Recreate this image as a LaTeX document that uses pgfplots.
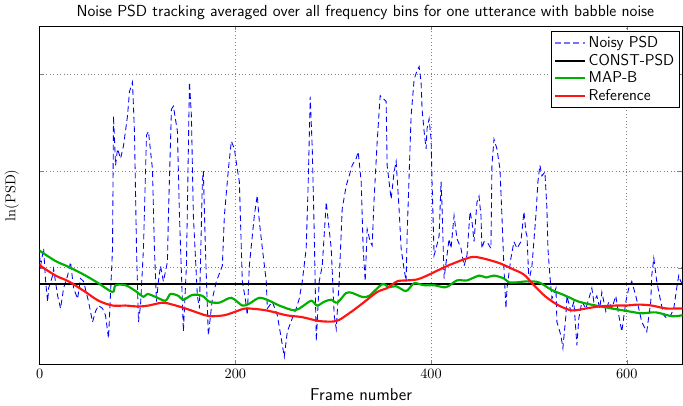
\documentclass[border=0pt]{standalone}
\usepackage{pgfplots}
\pgfplotsset{compat=1.18}
\definecolor{mapgreen}{RGB}{0,176,0}
\definecolor{refred}{RGB}{255,20,20}
\begin{document}
\begin{tikzpicture}
\begin{axis}[
  width=450pt, height=237pt, scale only axis,
  xmin=0, xmax=657, ymin=0, ymax=3.5,
  xtick={0,200,400,600},
  ytick={0,1,2,3}, yticklabels={},
  tick align=inside, major tick length=3pt,
  xmajorgrids, ymajorgrids,
  grid style={dotted, gray, line width=0.5pt},
  axis line style={line width=0.6pt},
  title={Noise PSD tracking averaged over all frequency bins for one utterance with babble noise},
  title style={font=\sffamily\fontsize{11.2}{13}\selectfont, xshift=3pt, yshift=-5pt},
  xlabel={Frame number},
  xlabel style={font=\sffamily\fontsize{12}{14}\selectfont, yshift=0pt},
  ylabel={$\ln(\mathrm{PSD})$},
  ylabel style={yshift=4pt},
  legend style={font=\sffamily\fontsize{11}{13}\selectfont, at={(1,1)}, anchor=north east, xshift=-2pt, yshift=-3.5pt,
    draw=black, line width=0.6pt, inner sep=1.5pt, row sep=-1pt},
  legend image code/.code={\draw[#1] (0pt,0pt) -- (21pt,0pt);},
  legend cell align=left,
]
% Noisy PSD
\addplot[blue, dash pattern=on 4pt off 2.5pt, line width=0.6pt, legend image post style={blue!55, line width=0.9pt, dash pattern=on 4pt off 2.5pt}] coordinates {
(0,1.12)(1,1.02)(4.1,1.20)(6.1,0.86)(8.2,0.65)(9.2,0.79)(13.3,0.92)(14.3,0.99)(18.4,0.71)(21.4,0.58)
(24.5,0.79)(28.6,0.92)(31.6,1.06)(34.7,0.79)(38.8,0.68)(41.8,0.89)(44.9,0.86)(50,0.65)(54.1,0.44)(57.1,0.55)
(60.2,0.61)(64.3,0.58)(67.3,0.51)(70.4,0.27)(74.5,1.20)(75.5,2.57)(77.6,2.06)(79.6,2.23)(82.7,2.13)(85.7,2.26)
(89.8,2.57)(91.8,2.82)(94.9,2.92)(96.9,2.41)(99,1.20)(101,0.44)(103.1,0.61)(106.1,1.20)(109.2,2.37)(111.2,2.41)
(115.3,2.02)(117.3,1.20)(119.4,0.65)(121.4,0.86)(123.5,1.02)(126.5,0.86)(130.6,1.06)(131.6,1.54)(134.7,2.64)(136.7,2.67)
(140.8,2.41)(142.9,1.54)(145.9,0.65)(146.9,0.34)(150,1.02)(152,2.23)(153.1,2.92)(155.1,2.57)(157.1,1.54)(161.2,0.71)
(163.3,0.58)(166.3,1.89)(167.3,2.00)(169.4,1.20)(172.4,0.30)(176.5,0.68)(180.6,0.86)(186.7,1.02)(188.8,1.54)(192.9,2.02)
(195.9,2.31)(199,2.23)(202,2.02)(204.1,1.89)(207.1,0.86)(210.2,0.68)(212.2,0.51)(214.3,1.02)(219.4,1.54)(222.4,1.75)
(224.5,1.48)(227.6,1.20)(231.6,0.86)(232.7,0.58)(237.8,0.65)(242.9,0.51)(246.9,0.27)(250,0.08)(253.1,0.34)(258.2,0.48)
(262.2,0.58)(265.3,0.68)(268.4,0.86)(272.4,1.20)(274.5,1.89)(276.5,2.77)(278.6,2.23)(280.6,1.37)(282.7,0.24)(285.7,0.86)
(288.8,1.02)(292.9,1.68)(293.9,1.58)(298,1.20)(301,0.51)(303.1,0.37)(306.1,0.86)(309.2,1.61)(313.3,1.85)(316.3,1.95)
(319.4,2.06)(323.5,2.13)(325.5,2.20)(328.6,1.89)(330.6,1.20)(332.7,0.86)(334.7,1.40)(337.8,1.27)(339.8,1.23)(341.8,1.71)
(344.9,2.30)(348,2.78)(351,2.75)(354.1,2.72)(355.1,2.06)(359.2,1.71)(362.2,1.99)(364.3,2.10)(367.3,1.61)(369.4,1.20)
(372.4,0.99)(374.5,0.86)(375.5,1.33)(379.6,2.57)(382.7,2.95)(385.7,3.04)(387.8,3.08)(389.8,2.92)(390.8,2.64)(392.9,2.41)
(394.9,2.23)(395.9,2.44)(398,2.54)(400,2.33)(401,1.89)(403.1,1.13)(405.1,1.20)(408.2,1.33)(410.2,1.89)(411.2,1.64)
(413.3,0.89)(416.3,1.13)(418.4,1.30)(420.4,1.20)(423.5,1.54)(426.5,1.30)(430.6,1.20)(433.7,1.02)(436.7,1.13)(439.8,1.58)
(441.8,1.48)(443.9,1.27)(446.9,1.68)(449,1.74)(451,1.54)(452,1.20)(454.1,1.27)(457.1,1.27)(461.2,1.20)(462.2,2.06)
(464.3,2.33)(467.3,2.23)(470.4,2.02)(472.4,1.54)(474.5,0.99)(476.5,0.58)(477.6,0.79)(481.6,1.10)(484.7,1.27)(487.8,1.20)
(491.8,1.27)(494.9,1.58)(496.9,1.37)(498,1.33)(500,0.86)(503.1,1.02)(507.1,1.54)(509.2,1.89)(511.2,2.06)(513.3,1.95)
(516.3,1.99)(518.4,1.61)(519.4,1.20)(521.4,0.92)(523.5,0.68)(527.6,0.79)(528.6,0.44)(532.7,0.30)(534.7,0.17)(537.8,0.51)
(538.8,0.71)(542.9,0.55)(545.9,0.65)(549,0.20)(551,0.48)(554.1,0.65)(558.2,0.58)(561.2,0.68)(564.3,0.79)(566.3,0.65)
(569.4,0.71)(572.4,0.58)(574.5,0.75)(578.6,0.55)(581.6,0.65)(584.7,0.58)(588.8,0.71)(591.8,0.51)(594.9,0.34)(599,0.65)
(602,0.79)(605.1,0.86)(609.2,0.71)(612.2,0.58)(615.3,0.44)(620.4,0.34)(624.5,0.65)(625.5,0.92)(627.6,1.10)(630.6,0.86)
(634.7,0.65)(637.8,0.51)(640.8,0.48)(644.9,0.51)(648,0.58)(651,0.79)(653.1,0.92)(655.1,0.86)(657,0.84)
};
\addlegendentry{Noisy PSD}
% CONST-PSD
\addplot[black, line width=1.5pt] coordinates {(0,0.837)(657,0.837)};
\addlegendentry{CONST-PSD}
% MAP-B
\addplot[mapgreen, line width=1.5pt, smooth] coordinates {
(0,1.18)(1,1.17)(16.3,1.07)(29.6,1.01)(46.9,0.92)(60.2,0.84)(74.5,0.75)(77.6,0.82)(87.8,0.82)(98,0.76)
(106.1,0.70)(110.2,0.73)(118.4,0.70)(128.6,0.66)(133.7,0.73)(141.8,0.71)(146.9,0.67)(156.1,0.72)(166.3,0.71)(173.5,0.65)
(183.7,0.64)(195.9,0.69)(207.1,0.61)(214.3,0.63)(224.5,0.69)(234.7,0.66)(244.9,0.61)(260.2,0.56)(268.4,0.60)(277.6,0.66)
(283.7,0.61)(290.8,0.65)(298,0.67)(304.1,0.64)(313.3,0.74)(319.4,0.74)(329.6,0.70)(336.7,0.71)(350,0.83)(357.1,0.80)
(364.3,0.81)(374.5,0.76)(382.7,0.84)(392.9,0.82)(403.1,0.82)(415.3,0.80)(426.5,0.87)(436.7,0.87)(449,0.92)(456.1,0.90)
(464.3,0.92)(474.5,0.89)(479.6,0.85)(487.8,0.85)(498,0.86)(510.2,0.85)(523.5,0.77)(537.8,0.71)(551,0.65)(568.4,0.61)
(584.7,0.58)(602,0.55)(615.3,0.53)(629.6,0.54)(645.9,0.50)(657,0.51)
};
\addlegendentry{MAP-B}
% Reference
\addplot[refred, line width=1.5pt, smooth] coordinates {
(0,1.04)(1,1.02)(16.3,0.92)(29.6,0.86)(46.9,0.75)(60.2,0.66)(74.5,0.61)(87.8,0.61)(101,0.60)(111.2,0.61)
(125.5,0.64)(135.7,0.62)(149,0.58)(163.3,0.53)(173.5,0.50)(188.8,0.51)(201,0.55)(211.2,0.58)(231.6,0.56)(252,0.51)
(268.4,0.49)(285.7,0.45)(303.1,0.45)(316.3,0.53)(329.6,0.63)(344.9,0.75)(355.1,0.79)(365.3,0.86)(375.5,0.87)(385.7,0.88)
(395.9,0.92)(408.2,0.98)(421.4,1.04)(440.8,1.11)(452,1.10)(469.4,1.05)(482.7,0.99)(494.9,0.93)(505.1,0.82)(517.3,0.70)
(530.6,0.61)(543.9,0.56)(558.2,0.58)(571.4,0.60)(588.8,0.61)(599,0.61)(612.2,0.62)(625.5,0.61)(639.8,0.58)(653.1,0.58)(657,0.58)
};
\addlegendentry{Reference}
\end{axis}
\end{tikzpicture}
\end{document}
